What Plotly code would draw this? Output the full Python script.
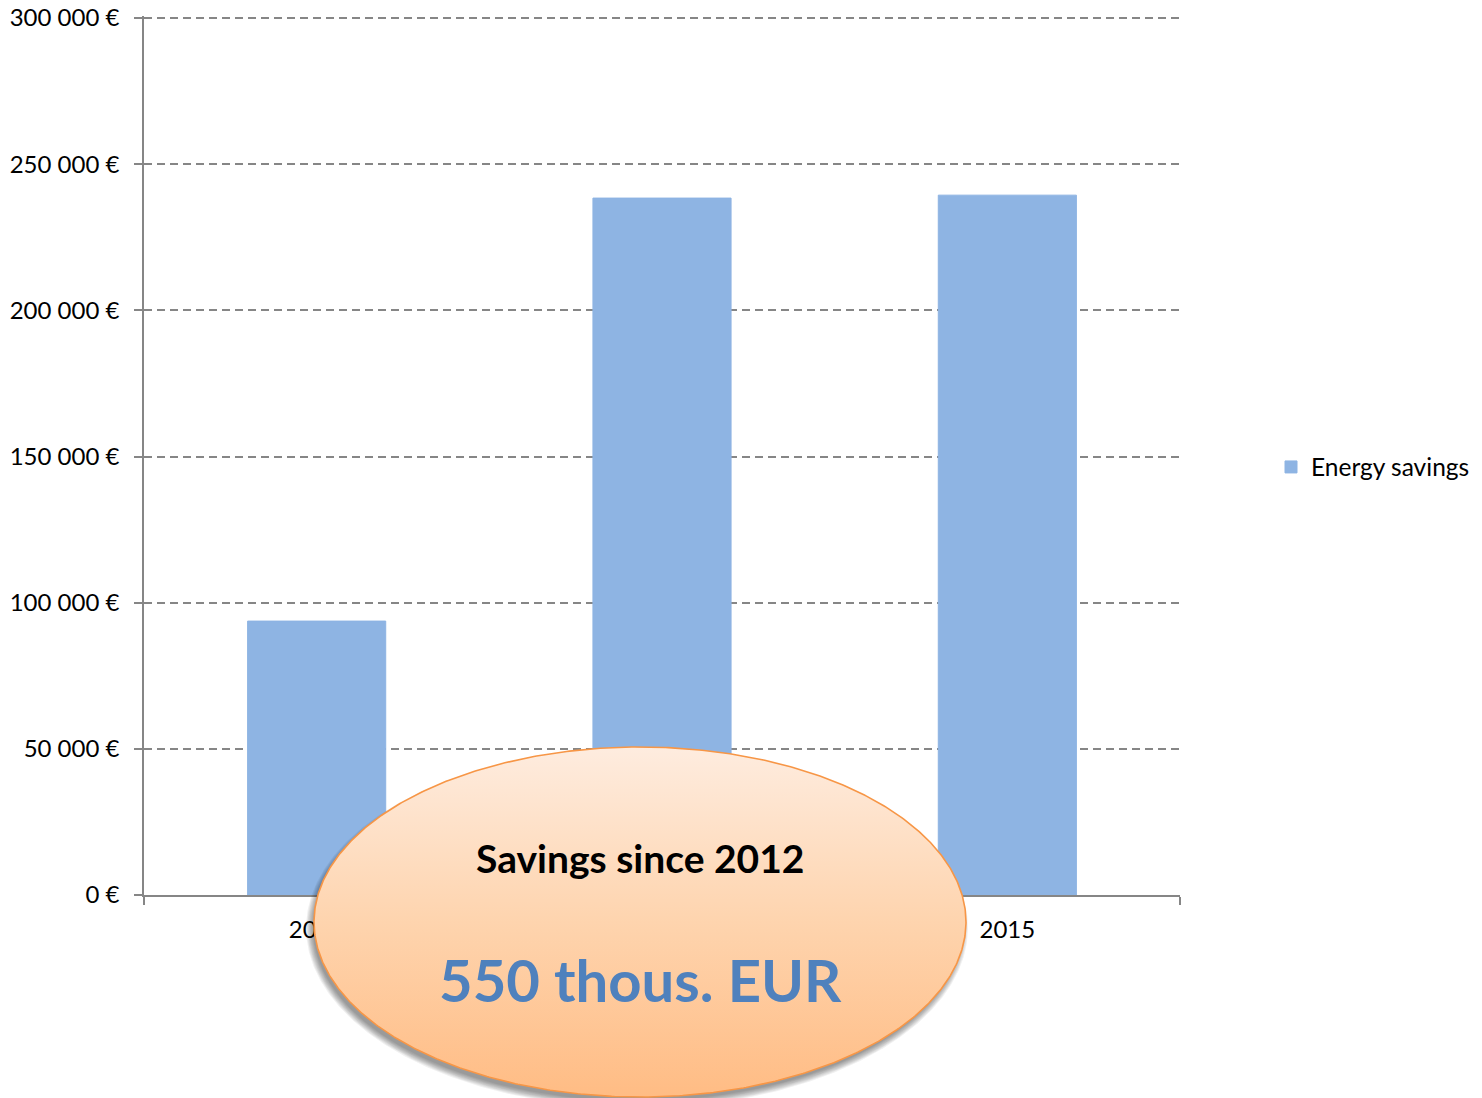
import numpy as np
import plotly.graph_objects as go

# ---- data ----
years = ["2013", "2014", "2015"]
savings = [93700, 238400, 239400]
y_tickvals = [0, 50000, 100000, 150000, 200000, 250000, 300000]
y_ticktext = ["0 €", "50 000 €", "100 000 €", "150 000 €", "200 000 €", "250 000 €", "300 000 €"]
series_name = "Energy savings"
badge_title = "Savings since 2012"
badge_value = "550 thous. EUR"

W, H = 1482, 1098
FONT = "Lato"
Y_MAX = 300000
# plot top sits 2px above the 300k gridline so plotly keeps that gridline
PLOT_TOP, GRID_TOP, PLOT_BOTTOM = 16, 18, 895
y_top = Y_MAX * (PLOT_BOTTOM - PLOT_TOP) / (PLOT_BOTTOM - GRID_TOP)


def py(y):
    # pixel y (from top) -> figure y coordinate (from bottom)
    return H - y


fig = go.Figure()
fig.add_trace(go.Bar(
    x=years, y=savings, name=series_name,
    marker=dict(color="#8EB4E3", line=dict(width=1, color="#8EB4E3")),
    xaxis="x", yaxis="y", hoverinfo="skip",
))

# badge ellipse drawn on a full-figure pixel subplot (x2/y2) so it covers axis labels
cx, cy, rx, ry = 640, py(922), 326, 175
t = np.linspace(0, 2 * np.pi, 721)
for k in range(7, -1, -1):
    fig.add_trace(go.Scatter(
        x=(cx - 3) + (rx + k - 2) * np.cos(t), y=(cy - 6) + (ry + k - 2) * np.sin(t),
        fill="toself", fillcolor="rgba(0,0,0,0.06)", mode="lines", line=dict(width=0),
        xaxis="x2", yaxis="y2", showlegend=False, hoverinfo="skip",
    ))
fig.add_trace(go.Scatter(
    x=cx + rx * np.cos(t), y=cy + ry * np.sin(t),
    fill="toself",
    fillgradient=dict(type="vertical",
                      colorscale=[[0, "#FFBC84"], [0.5, "#FED4AE"], [1, "#FEECDF"]],
                      start=cy - ry, stop=cy + ry),
    mode="lines", line=dict(color="#F79646", width=1.6),
    xaxis="x2", yaxis="y2", showlegend=False, hoverinfo="skip",
))

fig.add_annotation(x=cx, y=py(858), xref="x2", yref="y2", text=f"<b>{badge_title}</b>",
                   showarrow=False, font=dict(family=FONT, size=39, color="#000000"))
fig.add_annotation(x=cx, y=py(979), xref="x2", yref="y2", text=f"<b>{badge_value}</b>",
                   showarrow=False, font=dict(family=FONT, size=58, color="#4F81BD"))

fig.update_layout(
    width=W, height=H,
    margin=dict(l=0, r=0, t=0, b=0, autoexpand=False),
    paper_bgcolor="white", plot_bgcolor="rgba(0,0,0,0)",
    font=dict(family=FONT, size=24, color="#000000"),
    bargap=0.6,
    showlegend=True,
    hovermode=False,
    legend=dict(x=1271 / W, y=py(467) / H, xanchor="left", yanchor="middle",
                font=dict(family=FONT, size=24.5), itemwidth=30, bgcolor="rgba(0,0,0,0)"),
    xaxis=dict(domain=[144 / W, 1180 / W], range=[-0.5, 2.5], type="category",
               showline=True, linecolor="#868686", linewidth=1.5,
               ticks="outside", tickson="boundaries", ticklen=8, tickcolor="#868686",
               tickwidth=1.5, showgrid=False, tickfont=dict(size=24), anchor="y",
               ticklabelstandoff=12, automargin=False),
    yaxis=dict(domain=[py(PLOT_BOTTOM) / H, py(PLOT_TOP) / H], range=[0, y_top],
               tickvals=y_tickvals, ticktext=y_ticktext,
               showline=True, linecolor="#868686", linewidth=1.5,
               ticks="outside", ticklen=8, tickcolor="#868686", tickwidth=1.5,
               showgrid=True, gridcolor="#868686", gridwidth=1.5, griddash="8px,5px",
               zeroline=False, ticklabelstandoff=10, tickfont=dict(size=24), anchor="x",
               ticklabeloverflow="allow", automargin=False),
    xaxis2=dict(domain=[0, 1], range=[0, W], anchor="y2", visible=False, fixedrange=True,
                automargin=False),
    yaxis2=dict(domain=[0, 1], range=[0, H], anchor="x2", visible=False, fixedrange=True,
                automargin=False),
)

fig.write_html("out.html", config={"displayModeBar": False},
               post_script="document.body.style.margin='0px';")
